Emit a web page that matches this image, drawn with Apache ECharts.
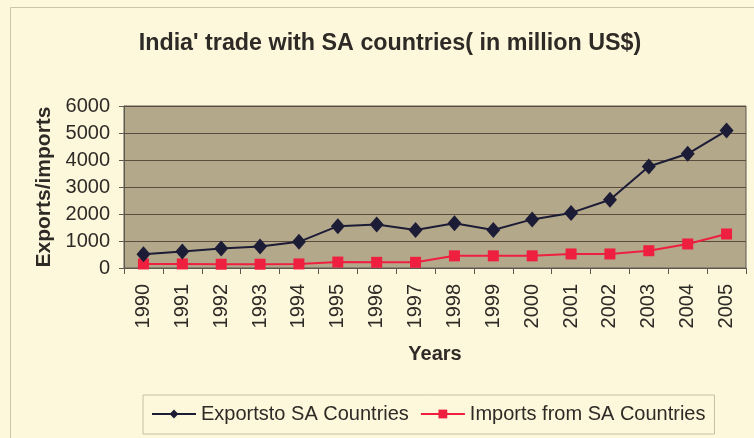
<!DOCTYPE html>
<html>
<head>
<meta charset="utf-8">
<script src="https://cdn.jsdelivr.net/npm/echarts@6/dist/echarts.min.js"></script>
<style>
  html, body { margin: 0; padding: 0; background: #fdf8dc; }
  #chart { width: 754px; height: 438px; }
</style>
</head>
<body>
<div id="chart"></div>
<script>
// India's trade with South Asian countries, million US$
const years = ['1990','1991','1992','1993','1994','1995','1996','1997','1998','1999','2000','2001','2002','2003','2004','2005'];
const exportsToSA = [510, 610, 720, 800, 970, 1550, 1610, 1410, 1660, 1410, 1800, 2040, 2530, 3760, 4230, 5090];
const importsFromSA = [150, 150, 140, 140, 150, 220, 210, 210, 450, 450, 450, 520, 520, 640, 890, 1260];
const yTicks = { min: 0, max: 6000, step: 1000 };

const textColor = '#2e2a26';
const font = 'Liberation Sans, Arial, sans-serif';

const chart = echarts.init(document.getElementById('chart'), null, { renderer: 'canvas' });

chart.setOption({
  backgroundColor: '#fdf8dc',
  animation: false,
  graphic: [{
    type: 'rect',
    shape: { x: 10.5, y: 7.5, width: 800, height: 500 },
    style: { fill: 'none', stroke: '#c9c7a6', lineWidth: 1 },
    silent: true, z: -1
  }],
  title: {
    text: "India' trade with SA countries( in million US$)",
    left: 385, top: 27, textAlign: 'center',
    textStyle: { fontFamily: font, fontSize: 23.3, fontWeight: 'bold', color: textColor }
  },
  legend: {
    left: 143, top: 395,
    padding: [9, 9, 10, 8],
    itemWidth: 44, itemHeight: 11, itemGap: 11,
    borderColor: '#c4c2a0', borderWidth: 1,
    textStyle: { fontFamily: font, fontSize: 20, color: textColor },
    data: ['Exportsto SA Countries', 'Imports from SA Countries']
  },
  grid: {
    left: 124, right: 8, top: 106, bottom: 170,
    show: true, backgroundColor: '#b4a88b', borderColor: '#5e5850', borderWidth: 1
  },
  xAxis: {
    type: 'category',
    data: years,
    boundaryGap: true,
    name: 'Years', nameLocation: 'middle', nameGap: 76,
    nameTextStyle: { fontFamily: font, fontSize: 20, fontWeight: 'bold', color: textColor },
    axisLine: { lineStyle: { color: '#5e5850', width: 1 } },
    axisTick: { show: true, length: 6, lineStyle: { color: '#5e5850' } },
    axisLabel: { rotate: 90, margin: 16, fontFamily: font, fontSize: 20, color: textColor }
  },
  yAxis: {
    type: 'value',
    min: yTicks.min, max: yTicks.max, interval: yTicks.step,
    name: 'Exports/imports', nameLocation: 'middle', nameGap: 69,
    nameTextStyle: { fontFamily: font, fontSize: 21, fontWeight: 'bold', color: textColor },
    axisLine: { show: true, lineStyle: { color: '#5e5850' } },
    axisTick: { show: true, length: 5, lineStyle: { color: '#5e5850' } },
    axisLabel: { margin: 14, fontFamily: font, fontSize: 20, color: textColor, formatter: v => String(v) },
    splitLine: { lineStyle: { color: '#5c4b3e', width: 1 } }
  },
  series: [
    {
      name: 'Exportsto SA Countries',
      type: 'line',
      data: exportsToSA,
      symbol: 'diamond', symbolSize: [14, 16],
      lineStyle: { color: '#1c1c36', width: 2 },
      itemStyle: { color: '#1c1c36' },
      z: 3
    },
    {
      name: 'Imports from SA Countries',
      type: 'line',
      data: importsFromSA,
      symbol: 'rect', symbolSize: 11,
      lineStyle: { color: '#ee1f3f', width: 2 },
      itemStyle: { color: '#ee1f3f' },
      z: 2
    }
  ]
});
</script>
</body>
</html>
